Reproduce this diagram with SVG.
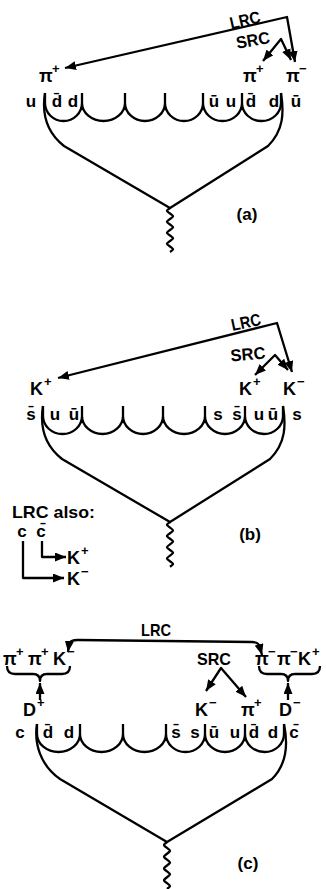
<svg xmlns="http://www.w3.org/2000/svg" width="326" height="889" viewBox="0 0 326 889">
<style>
text{font-family:"Liberation Sans",Arial,sans-serif;font-weight:bold;fill:#000}
.q{font-size:17px;text-anchor:middle}
.p{font-size:18px}
.s{font-size:13px}
.t{font-size:17px;text-anchor:middle}
.ln{fill:none;stroke:#000;stroke-width:2.3;stroke-linejoin:round}
.ar{fill:none;stroke:#000;stroke-width:2.3;stroke-linejoin:round;marker-end:url(#ah)}
.ar2{fill:none;stroke:#000;stroke-width:2.3;stroke-linejoin:round;marker-end:url(#ah);marker-start:url(#ahs)}
</style>
<defs>
<marker id="ah" markerUnits="userSpaceOnUse" markerWidth="11" markerHeight="9" refX="11" refY="4.5" orient="auto"><path d="M0,0 L11,4.5 L0,9 z"/></marker>
<marker id="ahs" markerUnits="userSpaceOnUse" markerWidth="11" markerHeight="9" refX="11" refY="4.5" orient="auto-start-reverse"><path d="M0,0 L11,4.5 L0,9 z"/></marker>
</defs>

<!-- Panel (a) -->
<g id="a-chain">
<path class="ln" d="M45 103 A18.5 18 0 0 0 82 103 A21.5 18 0 0 0 125 103 A20 18 0 0 0 165 103 A19 18 0 0 0 203 103 A19.5 18 0 0 0 242 103 A19.5 18 0 0 0 281 103 M45 93V103 M82 93V103 M125 93V103 M165 93V103 M203 93V103 M242 93V103 M281 93V103"/>
<path class="ln" d="M45 93 C42 112 46 132 64 146 L170 208 L268 146 C284 130 284 112 281 93"/>
<path class="ln" d="M170 208 c-4 2.75 -4 2.75 0 5.5 c4 2.75 4 2.75 0 5.5 c-4 2.75 -4 2.75 0 5.5 c4 2.75 4 2.75 0 5.5 c-4 2.75 -4 2.75 0 5.5 c4 2.75 4 2.75 0 5.5 c-4 2.75 -4 2.75 0 5.5 c4 2.75 4 2.75 0 5.5"/>
</g>
<g id="a-quarks">
<text class="q" x="31" y="107">u</text>
<text class="q" x="57" y="107">d̄</text>
<text class="q" x="73" y="107">d</text>
<text class="q" x="214" y="107">ū</text>
<text class="q" x="231" y="107">u</text>
<text class="q" x="251" y="107">d̄</text>
<text class="q" x="274" y="107">d</text>
<text class="q" x="296" y="107">ū</text>
</g>
<g id="a-hadrons">
<text class="p" x="39" y="82">π<tspan class="s" x="52" y="73">+</tspan></text>
<text class="p" x="243" y="82">π<tspan class="s" x="256" y="73">+</tspan></text>
<text class="p" x="286" y="82">π<tspan class="s" x="299" y="73">−</tspan></text>
</g>
<g id="a-labels">
<text class="t" x="245" y="26" textLength="31" lengthAdjust="spacingAndGlyphs" transform="rotate(-13 245 20)">LRC</text>
<text class="t" x="253" y="46" textLength="34" lengthAdjust="spacingAndGlyphs" transform="rotate(-10 253 40)">SRC</text>
<text class="t" x="247" y="220">(a)</text>
</g>

<!-- Panel (b) -->
<g id="b-chain">
<path class="ln" d="M43 416 A19.5 18 0 0 0 82 416 A20.5 18 0 0 0 123 416 A20 18 0 0 0 163 416 A21 18 0 0 0 205 416 A20 18 0 0 0 245 416 A19 18 0 0 0 283 416 M43 406V416 M82 406V416 M123 406V416 M163 406V416 M205 406V416 M245 406V416 M283 406V416"/>
<path class="ln" d="M43 406 C40 425 44 445 62 459 L170 522 L270 459 C286 443 286 425 283 406"/>
<path class="ln" d="M170 522 c-4 2.8 -4 2.8 0 5.6 c4 2.8 4 2.8 0 5.6 c-4 2.8 -4 2.8 0 5.6 c4 2.8 4 2.8 0 5.6 c-4 2.8 -4 2.8 0 5.6 c4 2.8 4 2.8 0 5.6 c-4 2.8 -4 2.8 0 5.6 c4 2.8 4 2.8 0 5.6"/>
</g>
<g id="b-quarks">
<text class="q" x="31" y="420">s̄</text>
<text class="q" x="55" y="420">u</text>
<text class="q" x="74" y="420">ū</text>
<text class="q" x="218" y="420">s</text>
<text class="q" x="237" y="420">s̄</text>
<text class="q" x="259" y="420">u</text>
<text class="q" x="273" y="420">ū</text>
<text class="q" x="297" y="420">s</text>
</g>
<g id="b-hadrons">
<text class="p" x="30" y="395">K<tspan class="s" x="44" y="386">+</tspan></text>
<text class="p" x="239" y="395">K<tspan class="s" x="253" y="386">+</tspan></text>
<text class="p" x="283" y="395">K<tspan class="s" x="297" y="386">−</tspan></text>
</g>
<g id="b-labels">
<text class="t" x="246" y="328" textLength="30" lengthAdjust="spacingAndGlyphs" transform="rotate(-12 246 322)">LRC</text>
<text class="t" x="248" y="360" textLength="35" lengthAdjust="spacingAndGlyphs" transform="rotate(-5 248 354)">SRC</text>
<text class="t" x="250" y="540">(b)</text>
</g>
<g id="b-inset">
<text x="12" y="518" font-size="17" textLength="83" lengthAdjust="spacingAndGlyphs">LRC also:</text>
<text class="q" x="22" y="537">c</text>
<text class="q" x="41" y="537">c̄</text>
<text class="p" x="67" y="564">K<tspan class="s" x="81" y="555">+</tspan></text>
<text class="p" x="67" y="585">K<tspan class="s" x="81" y="576">−</tspan></text>
</g>

<!-- Panel (c) -->
<g id="c-chain">
<path class="ln" d="M37 734 A21.5 18 0 0 0 80 734 A21.5 18 0 0 0 123 734 A21.5 18 0 0 0 166 734 A19.5 18 0 0 0 205 734 A20 18 0 0 0 245 734 A19.5 18 0 0 0 284 734 M37 724V734 M80 724V734 M123 724V734 M166 724V734 M205 724V734 M245 724V734 M284 724V734"/>
<path class="ln" d="M37 724 C34 743 40 765 60 779 L167 842 L272 779 C287 764 288 743 284 724"/>
<path class="ln" d="M167 842 c-4 2.94 -4 2.94 0 5.88 c4 2.94 4 2.94 0 5.88 c-4 2.94 -4 2.94 0 5.88 c4 2.94 4 2.94 0 5.88 c-4 2.94 -4 2.94 0 5.88 c4 2.94 4 2.94 0 5.88 c-4 2.94 -4 2.94 0 5.88 c4 2.94 4 2.94 0 5.88"/>
</g>
<g id="c-quarks">
<text class="q" x="20" y="738">c</text>
<text class="q" x="48" y="738">d̄</text>
<text class="q" x="69" y="738">d</text>
<text class="q" x="176" y="738">s̄</text>
<text class="q" x="195" y="738">s</text>
<text class="q" x="214" y="738">ū</text>
<text class="q" x="235" y="738">u</text>
<text class="q" x="254" y="738">d̄</text>
<text class="q" x="273" y="738">d</text>
<text class="q" x="294" y="738">c̄</text>
</g>
<g id="c-hadrons">
<text class="p" x="3" y="665">π<tspan class="s" x="16" y="656">+</tspan><tspan x="28" y="665">π</tspan><tspan class="s" x="41" y="656">+</tspan><tspan x="53" y="665">K</tspan><tspan class="s" x="67" y="656">−</tspan></text>
<text class="p" x="255" y="665">π<tspan class="s" x="268" y="656">−</tspan><tspan x="277" y="665">π</tspan><tspan class="s" x="290" y="656">−</tspan><tspan x="298" y="665">K</tspan><tspan class="s" x="312" y="656">+</tspan></text>
<text class="p" x="23" y="716">D<tspan class="s" x="37" y="707">+</tspan></text>
<text class="p" x="279" y="716">D<tspan class="s" x="293" y="707">−</tspan></text>
<text class="p" x="195" y="716">K<tspan class="s" x="209" y="707">−</tspan></text>
<text class="p" x="241" y="716">π<tspan class="s" x="254" y="707">+</tspan></text>
</g>
<g id="c-labels">
<text class="t" x="156" y="636" textLength="30" lengthAdjust="spacingAndGlyphs">LRC</text>
<text class="t" x="214" y="665" textLength="34" lengthAdjust="spacingAndGlyphs">SRC</text>
<text class="t" x="248" y="869">(c)</text>
</g>

<g id="connectors">
<path class="ar2" d="M65 68 L287 17 L295 62"/>
<path class="ar2" d="M263 61 L281 39 L291 60"/>
<path class="ar2" d="M58 378 L277 323 L292 372"/>
<path class="ar2" d="M255 375 L275 355 L288 370"/>
<path class="ar" d="M23 541 V578 H64"/>
<path class="ar" d="M42 541 V557 H66"/>
<path class="ar2" d="M68 652 L69 644 Q70 640 78 640 L252 642 Q259 642 260 648 L262 655"/>
<path class="ar2" d="M206 691 L221 668 L246 697"/>
<path class="ar" d="M40 700 L40 683"/>
<path class="ar" d="M288 700 L288 683"/>
<path class="ln" d="M7 666 Q7 674 15 674 L33 674 Q40 674 40 681 Q40 674 47 674 L62 674 Q70 674 70 666"/>
<path class="ln" d="M259 666 Q259 674 267 674 L281 674 Q288 674 288 681 Q288 674 295 674 L312 674 Q320 674 320 666"/>
</g>
</svg>
